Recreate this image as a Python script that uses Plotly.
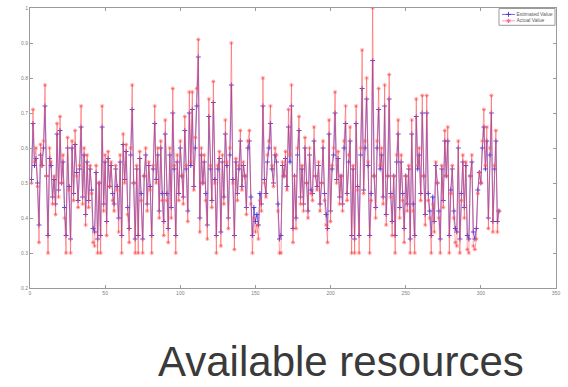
import plotly.graph_objects as go

# Sample index along the x axis
sample_index = list(range(1, 313))

# Measured resource values
actual_value = [
    0.50, 0.71, 0.56, 0.60, 0.49, 0.33, 0.61, 0.55, 0.62, 0.78,
    0.52, 0.30, 0.60, 0.56, 0.44, 0.52, 0.41, 0.67, 0.46, 0.69,
    0.50, 0.58, 0.40, 0.30, 0.63, 0.48, 0.30, 0.62, 0.45, 0.65,
    0.52, 0.43, 0.55, 0.72, 0.44, 0.60, 0.38, 0.58, 0.43, 0.55,
    0.47, 0.33, 0.32, 0.55, 0.30, 0.50, 0.30, 0.72, 0.42, 0.58,
    0.35, 0.59, 0.49, 0.56, 0.45, 0.42, 0.55, 0.48, 0.36, 0.58,
    0.30, 0.64, 0.50, 0.61, 0.41, 0.33, 0.60, 0.78, 0.50, 0.30,
    0.55, 0.30, 0.59, 0.45, 0.30, 0.52, 0.60, 0.42, 0.56, 0.48,
    0.30, 0.55, 0.72, 0.50, 0.60, 0.40, 0.62, 0.45, 0.35, 0.68,
    0.45, 0.33, 0.60, 0.40, 0.77, 0.55, 0.30, 0.58, 0.45, 0.62,
    0.52, 0.44, 0.69, 0.55, 0.39, 0.76, 0.56, 0.76, 0.48, 0.63,
    0.77, 0.91, 0.36, 0.60, 0.50, 0.58, 0.45, 0.34, 0.74, 0.55,
    0.43, 0.79, 0.50, 0.30, 0.55, 0.59, 0.32, 0.58, 0.44, 0.68,
    0.56, 0.37, 0.60, 0.90, 0.50, 0.31, 0.57, 0.45, 0.55, 0.65,
    0.48, 0.56, 0.52, 0.41, 0.62, 0.65, 0.44, 0.30, 0.40, 0.36,
    0.38, 0.34, 0.45, 0.42, 0.80, 0.50, 0.46, 0.58, 0.62, 0.72,
    0.55, 0.49, 0.60, 0.58, 0.42, 0.30, 0.30, 0.56, 0.52, 0.59,
    0.48, 0.71, 0.58, 0.78, 0.33, 0.52, 0.37, 0.60, 0.69, 0.44,
    0.55, 0.42, 0.63, 0.50, 0.40, 0.60, 0.47, 0.45, 0.66, 0.52,
    0.48, 0.56, 0.42, 0.50, 0.62, 0.45, 0.38, 0.33, 0.68, 0.39,
    0.55, 0.60, 0.76, 0.50, 0.59, 0.44, 0.52, 0.42, 0.62, 0.72,
    0.45, 0.58, 0.66, 0.30, 0.55, 0.30, 0.72, 0.48, 0.30, 0.60,
    0.88, 0.47, 0.62, 0.80, 0.56, 0.30, 0.45, 1.00, 0.52, 0.40,
    0.62, 0.77, 0.55, 0.60, 0.44, 0.78, 0.38, 0.52, 0.81, 0.46,
    0.35, 0.52, 0.30, 0.58, 0.68, 0.40, 0.58, 0.45, 0.33, 0.52,
    0.42, 0.55, 0.30, 0.68, 0.42, 0.30, 0.74, 0.55, 0.60, 0.45,
    0.75, 0.52, 0.38, 0.75, 0.45, 0.40, 0.30, 0.44, 0.36, 0.56,
    0.50, 0.40, 0.30, 0.55, 0.43, 0.65, 0.52, 0.66, 0.30, 0.47,
    0.55, 0.40, 0.33, 0.32, 0.62, 0.30, 0.45, 0.58, 0.40, 0.56,
    0.31, 0.30, 0.52, 0.58, 0.32, 0.31, 0.34, 0.47, 0.53, 0.50,
    0.62, 0.71, 0.55, 0.66, 0.37, 0.60, 0.75, 0.36, 0.55, 0.65,
    0.36, 0.42,
]

# Model estimates for the same samples
estimated_value = [
    0.51, 0.67, 0.55, 0.57, 0.50, 0.38, 0.58, 0.55, 0.60, 0.72,
    0.52, 0.35, 0.57, 0.55, 0.46, 0.51, 0.44, 0.64, 0.48, 0.65,
    0.50, 0.56, 0.43, 0.35, 0.60, 0.49, 0.34, 0.60, 0.47, 0.61,
    0.53, 0.45, 0.54, 0.66, 0.46, 0.58, 0.41, 0.56, 0.45, 0.54,
    0.48, 0.37, 0.36, 0.53, 0.34, 0.50, 0.35, 0.66, 0.44, 0.56,
    0.39, 0.57, 0.49, 0.55, 0.47, 0.44, 0.54, 0.49, 0.40, 0.56,
    0.35, 0.61, 0.51, 0.59, 0.43, 0.37, 0.58, 0.71, 0.50, 0.34,
    0.54, 0.35, 0.57, 0.47, 0.34, 0.52, 0.58, 0.44, 0.55, 0.49,
    0.35, 0.54, 0.67, 0.51, 0.58, 0.42, 0.60, 0.47, 0.39, 0.64,
    0.47, 0.37, 0.58, 0.43, 0.70, 0.54, 0.35, 0.56, 0.47, 0.60,
    0.52, 0.46, 0.65, 0.54, 0.42, 0.70, 0.55, 0.71, 0.49, 0.60,
    0.72, 0.86, 0.40, 0.58, 0.50, 0.56, 0.47, 0.38, 0.69, 0.54,
    0.45, 0.73, 0.51, 0.35, 0.54, 0.57, 0.36, 0.56, 0.46, 0.64,
    0.55, 0.40, 0.58, 0.78, 0.51, 0.35, 0.56, 0.47, 0.54, 0.62,
    0.49, 0.55, 0.52, 0.43, 0.60, 0.62, 0.46, 0.35, 0.43, 0.39,
    0.41, 0.38, 0.47, 0.44, 0.72, 0.51, 0.47, 0.56, 0.60, 0.67,
    0.54, 0.50, 0.58, 0.56, 0.44, 0.34, 0.35, 0.55, 0.52, 0.57,
    0.49, 0.66, 0.56, 0.72, 0.37, 0.52, 0.40, 0.58, 0.65, 0.46,
    0.54, 0.44, 0.60, 0.50, 0.42, 0.58, 0.48, 0.47, 0.62, 0.52,
    0.49, 0.55, 0.44, 0.50, 0.60, 0.47, 0.41, 0.37, 0.64, 0.42,
    0.54, 0.58, 0.70, 0.51, 0.57, 0.46, 0.52, 0.44, 0.60, 0.67,
    0.47, 0.56, 0.62, 0.35, 0.54, 0.34, 0.67, 0.49, 0.35, 0.58,
    0.77, 0.48, 0.60, 0.74, 0.55, 0.35, 0.47, 0.85, 0.52, 0.43,
    0.60, 0.71, 0.54, 0.58, 0.46, 0.72, 0.41, 0.52, 0.74, 0.47,
    0.39, 0.52, 0.35, 0.56, 0.64, 0.43, 0.56, 0.47, 0.37, 0.52,
    0.44, 0.54, 0.34, 0.64, 0.44, 0.35, 0.69, 0.54, 0.58, 0.47,
    0.70, 0.52, 0.41, 0.70, 0.47, 0.42, 0.35, 0.46, 0.39, 0.55,
    0.50, 0.42, 0.34, 0.54, 0.45, 0.62, 0.52, 0.62, 0.35, 0.48,
    0.54, 0.42, 0.37, 0.36, 0.60, 0.34, 0.47, 0.56, 0.43, 0.55,
    0.35, 0.34, 0.52, 0.56, 0.36, 0.34, 0.37, 0.48, 0.53, 0.50,
    0.60, 0.66, 0.54, 0.62, 0.40, 0.58, 0.70, 0.39, 0.54, 0.62,
    0.39, 0.42,
]

series_names = ["Estimated Value", "Actual Value"]

x_ticks = [0, 50, 100, 150, 200, 250, 300, 350]
y_ticks = [0.2, 0.3, 0.4, 0.5, 0.6, 0.7, 0.8, 0.9, 1.0]
y_tick_labels = ["0.2", "0.3", "0.4", "0.5", "0.6", "0.7", "0.8", "0.9", "1"]

BLUE_LINE = "rgba(70,50,220,0.75)"
BLUE_MARK = "rgba(70,50,220,0.9)"
RED_LINE = "rgba(255,80,80,0.55)"
RED_MARK = "rgba(240,70,70,0.8)"

blue_marker = dict(symbol="cross-thin", size=3.5, line=dict(color=BLUE_MARK, width=1))
red_marker = dict(symbol="asterisk-open", size=3.5, line=dict(color=RED_MARK, width=1))

fig = go.Figure()

fig.add_trace(go.Scatter(
    x=sample_index, y=estimated_value, name=series_names[0],
    mode="lines+markers", line=dict(color=BLUE_LINE, width=1),
    marker=blue_marker, showlegend=False,
))
fig.add_trace(go.Scatter(
    x=sample_index, y=actual_value, name=series_names[1],
    mode="lines+markers", line=dict(color=RED_LINE, width=1),
    marker=red_marker, showlegend=False,
))

# Compact MATLAB-style legend drawn on an overlay axis measured in pixels
# from the top-left corner of the plotting area.
for name, row_y, color, marker in [
    (series_names[0], 6.5, BLUE_LINE, blue_marker),
    (series_names[1], 13.0, RED_LINE, red_marker),
]:
    fig.add_trace(go.Scatter(
        x=[472, 485], y=[row_y, row_y], xaxis="x2", yaxis="y2",
        mode="lines", line=dict(color=color, width=1),
        showlegend=False, hoverinfo="skip",
    ))
    fig.add_trace(go.Scatter(
        x=[478.5], y=[row_y], xaxis="x2", yaxis="y2",
        mode="markers", marker=marker, showlegend=False, hoverinfo="skip",
    ))
    fig.add_trace(go.Scatter(
        x=[486.5], y=[row_y], xaxis="x2", yaxis="y2",
        mode="text", text=[name], textposition="middle right",
        textfont=dict(family="Liberation Sans", size=5, color="#5a5a5a"),
        showlegend=False, hoverinfo="skip",
    ))

axis_common = dict(
    showgrid=False, zeroline=False, showline=True, linecolor="#9a9a9a",
    linewidth=1, mirror="ticks", ticks="inside", ticklen=3, tickcolor="#9a9a9a",
    tickfont=dict(family="Liberation Sans", size=5, color="#808080"),
)

fig.update_layout(
    width=568, height=387,
    margin=dict(l=30, r=12, t=5, b=99),
    paper_bgcolor="white", plot_bgcolor="white",
    showlegend=False,
    xaxis=dict(range=[0, 350], tickvals=x_ticks, **axis_common),
    yaxis=dict(range=[0.2, 1.0], tickvals=y_ticks, ticktext=y_tick_labels,
               **axis_common),
    xaxis2=dict(overlaying="x", anchor="y2", range=[0, 526], visible=False,
                fixedrange=True),
    yaxis2=dict(overlaying="y", anchor="x2", range=[283, 0], visible=False,
                fixedrange=True),
    shapes=[dict(
        type="rect", xref="x2", yref="y2", x0=469, x1=525, y0=0.5, y1=17.5,
        fillcolor="white", line=dict(color="#9a9a9a", width=1), layer="below",
    )],
    annotations=[dict(
        text="Available resources", xref="paper", yref="paper",
        x=0.591, y=-0.262, xanchor="center", yanchor="middle",
        showarrow=False,
        font=dict(family="Liberation Sans", size=42, color="#3a3a3a"),
    )],
)

fig.write_html("out.html")
